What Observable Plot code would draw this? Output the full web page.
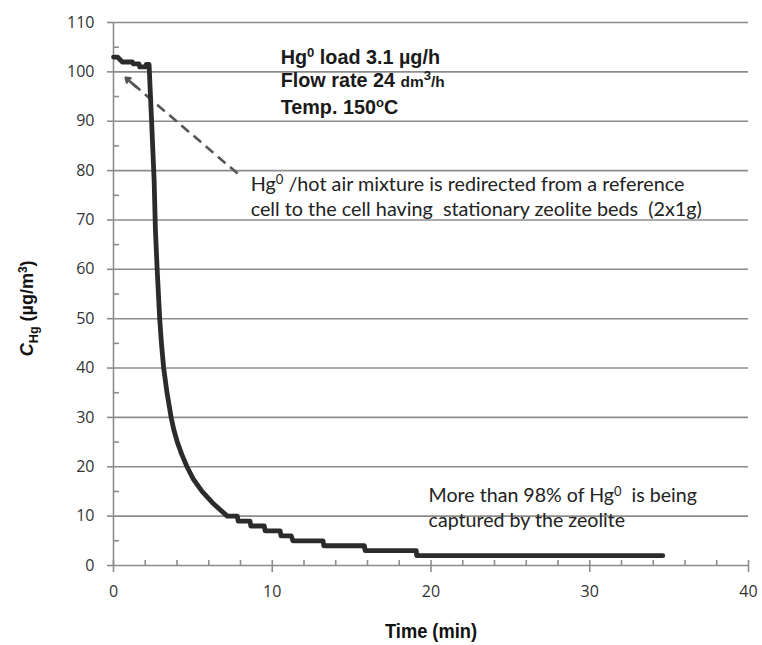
<!DOCTYPE html>
<html>
<head>
<meta charset="utf-8">
<script src="https://cdn.jsdelivr.net/npm/d3@7"></script>
<script src="https://cdn.jsdelivr.net/npm/@observablehq/plot@0.6"></script>
<style>
  html, body { margin: 0; padding: 0; background: #fff; }
  #chart { width: 762px; height: 645px; }
</style>
</head>
<body>
<div id="chart"></div>
<script>
// ---- data ----
const timeMin = [0, 0.25, 0.56, 1.19, 1.25, 1.61, 1.65, 2.03, 2.06, 2.24, 2.40, 2.56, 2.64, 2.75, 2.91, 3.02, 3.16, 3.37, 3.63, 3.80, 4.02, 4.30, 4.63, 5.03, 5.58, 6.30, 7.17, 7.8, 7.85, 8.6, 8.65, 9.5, 9.55, 10.5, 10.55, 11.2, 11.3, 13.2, 13.25, 15.8, 15.85, 19.07, 19.1, 34.6];
const concHg  = [103, 103, 102, 102, 101.6, 101.6, 101, 101, 101.5, 101.5, 90, 78, 68, 60, 50, 45, 40, 35, 30, 27.5, 25, 22.5, 20, 17.5, 15, 12.5, 10, 10, 9, 9, 8, 8, 7, 7, 6, 6, 5, 5, 4, 4, 3, 3, 2, 2];

const xMajorTicks = [0, 10, 20, 30, 40];
const xMinorTicks = [2, 4, 6, 8, 12, 14, 16, 18, 22, 24, 26, 28, 32, 34, 36, 38];
const yMajorTicks = [0, 10, 20, 30, 40, 50, 60, 70, 80, 90, 100, 110];
const yMinorTicks = [5, 15, 25, 35, 45, 55, 65, 75, 85, 95, 105];

// annotation: conditions box (bold)
const condText = ["Hg^{0} load 3.1 µg/h", "Flow rate 24 ~{dm}^{3}~{/h}", "Temp. 150^{o}C"];
const condX = [10.53, 10.53, 10.53];
const condY = [102.9, 98.2, 92.8];

// annotation: redirect note
const noteText = ["Hg^{0} /hot air mixture is redirected from a reference", "cell to the cell having  stationary zeolite beds  (2x1g)"];
const noteX = [8.64, 8.64];
const noteY = [77.2, 72.1];

// annotation: capture note
const capText = ["More than 98% of Hg^{0}  is being", "captured by the zeolite"];
const capX = [19.85, 19.85];
const capY = [14.1, 9.0];

// dashed arrow (from note to start of curve)
const arrowFrom = {t: 7.82, v: 79.4};
const arrowTo = {t: 0.77, v: 98.8};
const arrowHeadFrom = {t: 1.45, v: 96.9};

const yLabel = "!{C}_{Hg} (µg/m^{3})";
const yLabelAt = 52;
const xLabel = "Time (min)";
const xLabelAt = 20;

// ---- build ----
const series = timeMin.map((t, i) => ({t, v: concHg[i]}));
const rows = (xs, ys, ts) => ts.map((s, i) => ({x: xs[i], y: ys[i], s}));

const gridColor = "#8c8c8c";
const ink = "#2b2b2b";
const noteFont = "Lato, Carlito, Calibri, 'Open Sans', sans-serif";

const chart = Plot.plot({
  width: 762,
  height: 645,
  marginLeft: 113,
  marginRight: 14,
  marginTop: 22,
  marginBottom: 80,
  style: {background: "#fff", fontFamily: "'Open Sans', sans-serif"},
  x: {domain: [0, 40]},
  y: {domain: [0, 110]},
  marks: [
    Plot.gridY(yMajorTicks.filter(d => d > 0), {stroke: gridColor, strokeOpacity: 1, strokeWidth: 1.6}),
    // axis lines
    Plot.ruleX([0], {stroke: gridColor, strokeWidth: 1.6}),
    Plot.ruleY([0], {stroke: gridColor, strokeWidth: 1.6}),
    // y ticks
    Plot.axisY({ticks: yMajorTicks, tickSize: 6, text: null, stroke: gridColor, strokeWidth: 1.6}),
    Plot.axisY({ticks: yMinorTicks, tickSize: -6, text: null, stroke: gridColor, strokeWidth: 1.6}),
    Plot.axisY({ticks: yMajorTicks, tickSize: 0, tickPadding: 19, label: null, fontSize: 16, fill: "#333", tickFormat: d => String(d)}),
    // x ticks
    Plot.axisX({ticks: xMajorTicks, tickSize: 7, text: null, stroke: gridColor, strokeWidth: 1.6}),
    Plot.axisX({ticks: xMajorTicks, tickSize: -5, text: null, stroke: gridColor, strokeWidth: 1.6}),
    Plot.axisX({ticks: xMinorTicks, tickSize: -5, text: null, stroke: gridColor, strokeWidth: 1.6}),
    Plot.axisX({ticks: xMajorTicks, tickSize: 0, tickPadding: 20, label: null, fontSize: 16, fill: "#333", tickFormat: d => String(d)}),
    // axis titles
    Plot.text([xLabel], {x: xLabelAt, frameAnchor: "bottom", dy: 72, text: d => d, fontSize: 20, fontWeight: "bold",
      fontFamily: "'Liberation Sans', Arial, sans-serif", fill: "#111"}),
    Plot.text([yLabel], {y: yLabelAt, frameAnchor: "left", dx: -86, rotate: -90, text: d => d, fontSize: 18, fontWeight: "bold",
      fontFamily: "'Liberation Sans', Arial, sans-serif", fill: "#111"}),
    // dashed arrow
    Plot.link([{a: arrowFrom, b: arrowTo}], {x1: d => d.a.t, y1: d => d.a.v, x2: d => d.b.t, y2: d => d.b.v,
      stroke: "#555", strokeWidth: 2.6, strokeDasharray: "10,6"}),
    Plot.arrow([{a: arrowHeadFrom, b: arrowTo}], {x1: d => d.a.t, y1: d => d.a.v, x2: d => d.b.t, y2: d => d.b.v,
      stroke: "#555", strokeWidth: 2.6, headLength: 14, headAngle: 70}),
    // data curve
    Plot.line(series, {x: "t", y: "v", stroke: ink, strokeWidth: 4.8, strokeLinejoin: "round", strokeLinecap: "round"}),
    // annotations
    Plot.text(rows(condX, condY, condText), {x: "x", y: "y", text: "s", textAnchor: "start", fontSize: 19.8, fontWeight: "bold",
      fontFamily: "'Liberation Sans', Arial, sans-serif", fill: "#1a1a1a"}),
    Plot.text(rows(noteX, noteY, noteText), {x: "x", y: "y", text: "s", textAnchor: "start", fontSize: 19.8,
      fontFamily: noteFont, fill: "#222"}),
    Plot.text(rows(capX, capY, capText), {x: "x", y: "y", text: "s", textAnchor: "start", fontSize: 19.6,
      fontFamily: noteFont, fill: "#222"})
  ]
});

document.getElementById("chart").appendChild(chart);

// rich text: ^{sup} _{sub} ~{small} !{italic}
const NS = "http://www.w3.org/2000/svg";
let yLabelNode = null;
chart.querySelectorAll("text").forEach(t => {
  const s = t.textContent;
  if (s === xLabel) {
    // the reference uses a narrow bold face
    t.setAttribute("textLength", "92");
    t.setAttribute("lengthAdjust", "spacingAndGlyphs");
    return;
  }
  if (!/[\^_~!]\{/.test(s)) return;
  if (s === yLabel) yLabelNode = t;
  const fs = parseFloat(getComputedStyle(t).fontSize) || 16;
  while (t.firstChild) t.removeChild(t.firstChild);
  const parts = s.split(/([\^_~!]\{[^}]*\})/).filter(p => p !== "");
  let shift = 0;
  for (const p of parts) {
    const ts = document.createElementNS(NS, "tspan");
    let target = 0, size = null, txt = p, italic = false;
    if (p.startsWith("^{")) { target = -0.34 * fs; size = 0.66 * fs; txt = p.slice(2, -1); }
    else if (p.startsWith("_{")) { target = 0.26 * fs; size = 0.7 * fs; txt = p.slice(2, -1); }
    else if (p.startsWith("~{")) { size = 0.78 * fs; txt = p.slice(2, -1); }
    else if (p.startsWith("!{")) { italic = true; txt = p.slice(2, -1); }
    if (target - shift !== 0) ts.setAttribute("dy", (target - shift).toFixed(2));
    shift = target;
    if (size) ts.setAttribute("font-size", size.toFixed(2));
    if (italic) ts.setAttribute("font-style", "italic");
    ts.textContent = txt;
    t.appendChild(ts);
  }
});

// keep the rotated y title centred on its data value
if (yLabelNode) {
  const want = chart.scale("y").apply(yLabelAt);
  const svgTop = chart.getBoundingClientRect().top;
  const r = yLabelNode.getBoundingClientRect();
  const delta = (r.top + r.height / 2 - svgTop) - want;
  const cur = parseFloat(yLabelNode.getAttribute("x")) || 0;
  if (Math.abs(delta) > 0.5) yLabelNode.setAttribute("x", (cur + delta).toFixed(2));
}
</script>
</body>
</html>
